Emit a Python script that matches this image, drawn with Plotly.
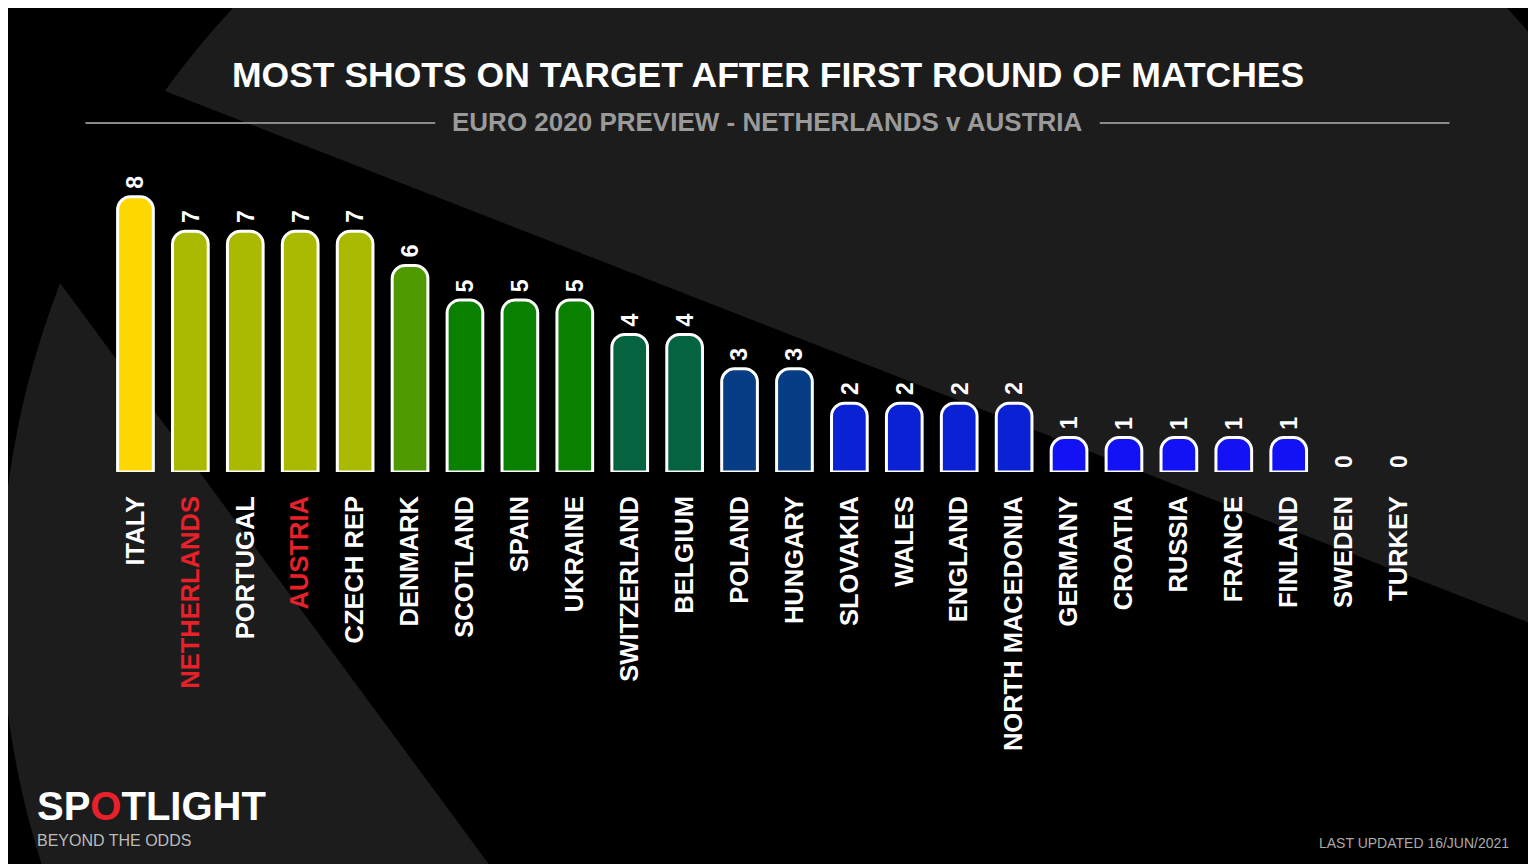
import plotly.graph_objects as go

countries = ["ITALY","NETHERLANDS","PORTUGAL","AUSTRIA","CZECH REP","DENMARK","SCOTLAND","SPAIN","UKRAINE",
             "SWITZERLAND","BELGIUM","POLAND","HUNGARY","SLOVAKIA","WALES","ENGLAND","NORTH MACEDONIA",
             "GERMANY","CROATIA","RUSSIA","FRANCE","FINLAND","SWEDEN","TURKEY"]
shots = [8,7,7,7,7,6,5,5,5,4,4,3,3,2,2,2,2,1,1,1,1,1,0,0]
highlight = ["NETHERLANDS","AUSTRIA"]
color_by_value = {8:"#FFD700",7:"#AABA00",6:"#4F9A00",5:"#0A8000",4:"#05643F",3:"#063D85",2:"#0B22D4",1:"#1212F5",0:"#1212F5"}

W, H = 1536, 864
OFF = 8
ML, MR, MT, MB = 107.5 - OFF, 109.5 + OFF, 128 - OFF, 392 + OFF
def px(x): return (x - OFF - ML) / (W - ML - MR)
def py(y): return (H - MB - (y - OFF)) / (H - MT - MB)

ticktext = [f"<span style='color:#E8202A'>{c}</span>" if c in highlight else c for c in countries]
xs = list(range(len(countries)))

fig = go.Figure(go.Bar(
    x=xs, y=shots,
    marker=dict(color=[color_by_value[v] for v in shots],
                line=dict(color="white", width=[3 if v > 0 else 0 for v in shots]), cornerradius=13),
    cliponaxis=False,
))

shapes = [
    dict(type="circle", xref="paper", yref="paper", x0=px(0), x1=px(1740), y0=py(1470), y1=py(-270),
         fillcolor="#1c1c1c", line=dict(width=0), layer="below"),
    dict(type="path", xref="paper", yref="paper", layer="below", fillcolor="#000000", line=dict(width=0),
         path=f"M {px(-182)} {py(-44)} L {px(1700)} {py(689)} L {px(1700)} {py(950)} L {px(552)} {py(950)} Z"),
    dict(type="line", xref="paper", yref="paper", x0=px(85), x1=px(435), y0=py(123), y1=py(123), line=dict(color="#8a8a8a", width=2)),
    dict(type="line", xref="paper", yref="paper", x0=px(1100), x1=px(1450), y0=py(123), y1=py(123), line=dict(color="#8a8a8a", width=2)),
]

ann = [
    dict(text="<b>MOST SHOTS ON TARGET AFTER FIRST ROUND OF MATCHES</b>", x=px(768), y=py(75), font=dict(size=35.5, color="white", family="Liberation Sans")),
    dict(text="<b>EURO 2020 PREVIEW - NETHERLANDS v AUSTRIA</b>", x=px(768), y=py(122), font=dict(size=26, color="#9a9a9a", family="Liberation Sans")),
    dict(text="<b>SP<span style='color:#E8202A'>O</span>TLIGHT</b>", x=px(34), y=py(806), xanchor="left", font=dict(size=40, color="white", family="Liberation Sans")),
    dict(text="BEYOND THE ODDS", x=px(34), y=py(840), xanchor="left", font=dict(size=16, color="#bbbbbb", family="Liberation Sans")),
    dict(text="LAST UPDATED 16/JUN/2021", x=px(1512), y=py(843), xanchor="right", font=dict(size=14, color="#aaaaaa", family="Liberation Sans")),
]
for a in ann:
    a.update(xref="paper", yref="paper", showarrow=False, yanchor="middle")
    a.setdefault("xanchor", "center")

for x, v in zip(xs, shots):
    ann.append(dict(x=x, y=v, xref="x", yref="y", text=f"<b>{v}</b>", textangle=-90, showarrow=False,
                    yanchor="bottom", yshift=6 if v > 0 else 2, font=dict(size=23, color="white", family="Liberation Sans")))

fig.update_layout(
    width=W, height=H, paper_bgcolor="#000000", plot_bgcolor="rgba(0,0,0,0)",
    margin=dict(l=ML, r=MR, t=MT, b=MB), bargap=0.35, showlegend=False,
    shapes=shapes, annotations=ann,
    xaxis=dict(tickmode="array", tickvals=xs, ticktext=ticktext, tickangle=-90,
               range=[-0.5, len(countries)-0.5], showgrid=False, zeroline=False, showline=False,
               ticklabelstandoff=18, tickfont=dict(size=25.5, color="white", family="Liberation Sans", weight="bold")),
    yaxis=dict(range=[0, 10], visible=False, showgrid=False),
)
fig.write_html("out.html")
